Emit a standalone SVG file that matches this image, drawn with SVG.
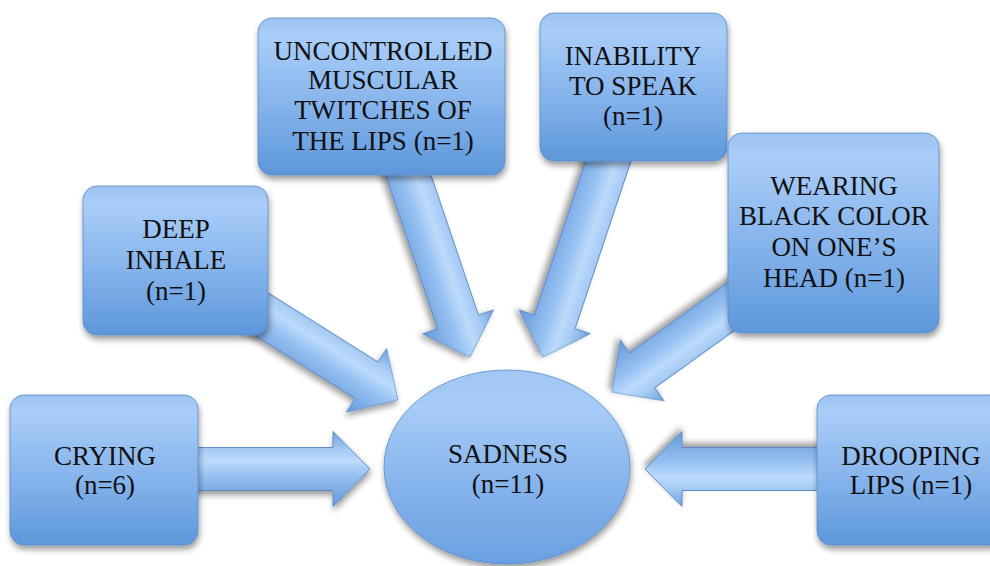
<svg xmlns="http://www.w3.org/2000/svg" width="990" height="566" viewBox="0 0 990 566">
  <defs>
    <linearGradient id="boxFill" x1="0" y1="0" x2="0" y2="1">
      <stop offset="0" stop-color="#9cc3f2"/>
      <stop offset="0.12" stop-color="#a9cdf8"/>
      <stop offset="0.55" stop-color="#86b4ec"/>
      <stop offset="1" stop-color="#5d97da"/>
    </linearGradient>
    <linearGradient id="ovalFill" x1="0" y1="0" x2="0" y2="1">
      <stop offset="0" stop-color="#a2c7f4"/>
      <stop offset="0.2" stop-color="#a6cbf7"/>
      <stop offset="0.6" stop-color="#85b3ec"/>
      <stop offset="1" stop-color="#6aa0e0"/>
    </linearGradient>
    <!-- shading across the arrow body, in each arrow's own frame -->
    <linearGradient id="arrowFill" gradientUnits="userSpaceOnUse" x1="0" y1="-38" x2="0" y2="38">
      <stop offset="0" stop-color="#6c9fdc"/>
      <stop offset="0.25" stop-color="#a8ccf6"/>
      <stop offset="0.4" stop-color="#bcdafb"/>
      <stop offset="0.6" stop-color="#94bff1"/>
      <stop offset="1" stop-color="#6699d8"/>
    </linearGradient>
    <filter id="shadow" x="-20%" y="-20%" width="140%" height="140%">
      <feGaussianBlur in="SourceAlpha" stdDeviation="3"/>
      <feOffset dx="1" dy="4" result="blur"/>
      <feComponentTransfer><feFuncA type="linear" slope="0.4"/></feComponentTransfer>
      <feMerge><feMergeNode/><feMergeNode in="SourceGraphic"/></feMerge>
    </filter>
    <style>
      .box { fill: url(#boxFill); stroke: #5b8bc6; stroke-width: 0.8; filter: url(#shadow); }
      .oval { fill: url(#ovalFill); stroke: #5b8bc6; stroke-width: 0.8; filter: url(#shadow); }
      .arrow { fill: url(#arrowFill); stroke: #5586c2; stroke-width: 0.9; filter: url(#shadow); }
      text { font-family: "Liberation Serif", "DejaVu Serif", serif; font-size: 27px; fill: #111; text-anchor: middle; }
    </style>
  </defs>

  <rect width="990" height="566" fill="#ffffff"/>

  <!-- block arrows pointing at the central oval -->
  <g id="connectors">
    <path class="arrow" transform="translate(104,469)" d="M0,-21.5 L229,-21.5 L229,-37.5 L266,0 L229,37.5 L229,21.5 L0,21.5 Z"/>
    <path class="arrow" transform="translate(911,469) rotate(180)" d="M0,-21.5 L229,-21.5 L229,-37.5 L266,0 L229,37.5 L229,21.5 L0,21.5 Z"/>
    <path class="arrow" transform="translate(175.5,260) rotate(32.18)" d="M0,-21.5 L225.9,-21.5 L225.9,-37.5 L262.9,0 L225.9,37.5 L225.9,21.5 L0,21.5 Z"/>
    <path class="arrow" transform="translate(381.5,96) rotate(71.27)" d="M0,-21.5 L238.6,-21.5 L238.6,-37.5 L275.6,0 L238.6,37.5 L238.6,21.5 L0,21.5 Z"/>
    <path class="arrow" transform="translate(633,87) rotate(108.43)" d="M0,-21.5 L247.6,-21.5 L247.6,-37.5 L284.6,0 L247.6,37.5 L247.6,21.5 L0,21.5 Z"/>
    <path class="arrow" transform="translate(833.5,233) rotate(144.33)" d="M0,-21.5 L235.7,-21.5 L235.7,-37.5 L272.7,0 L235.7,37.5 L235.7,21.5 L0,21.5 Z"/>
  </g>

  <g id="crying">
    <rect class="box" x="10" y="395" width="188" height="150" rx="14"/>
    <text x="105" y="465">CRYING</text>
    <text x="105" y="494">(n=6)</text>
  </g>

  <g id="deep-inhale">
    <rect class="box" x="83" y="186" width="185" height="149" rx="14"/>
    <text x="176" y="238">DEEP</text>
    <text x="176" y="269">INHALE</text>
    <text x="176" y="300">(n=1)</text>
  </g>

  <g id="lip-twitches">
    <rect class="box" x="258" y="18" width="247" height="157" rx="14"/>
    <text x="383" y="60">UNCONTROLLED</text>
    <text x="383" y="89">MUSCULAR</text>
    <text x="383" y="119">TWITCHES OF</text>
    <text x="383" y="150">THE LIPS (n=1)</text>
  </g>

  <g id="inability-to-speak">
    <rect class="box" x="540" y="13" width="187" height="148" rx="14"/>
    <text x="633" y="65">INABILITY</text>
    <text x="633" y="95">TO SPEAK</text>
    <text x="633" y="125">(n=1)</text>
  </g>

  <g id="black-head-cover">
    <rect class="box" x="728" y="133" width="211" height="200" rx="14"/>
    <text x="834" y="195">WEARING</text>
    <text x="834" y="225">BLACK COLOR</text>
    <text x="834" y="256">ON ONE’S</text>
    <text x="834" y="287">HEAD (n=1)</text>
  </g>

  <g id="drooping-lips">
    <rect class="box" x="817" y="395" width="188" height="150" rx="14"/>
    <text x="911" y="465">DROOPING</text>
    <text x="911" y="494">LIPS (n=1)</text>
  </g>

  <g id="sadness">
    <ellipse class="oval" cx="507" cy="467" rx="123" ry="97"/>
    <text x="508" y="463">SADNESS</text>
    <text x="508" y="493">(n=11)</text>
  </g>
</svg>
